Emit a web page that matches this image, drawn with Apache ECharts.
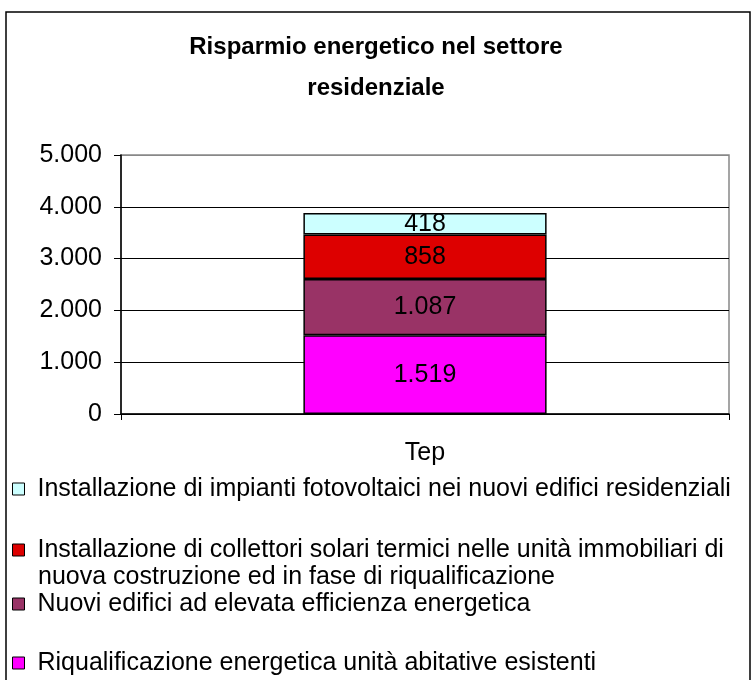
<!DOCTYPE html>
<html>
<head>
<meta charset="utf-8">
<script src="https://cdn.jsdelivr.net/npm/echarts@6/dist/echarts.min.js"></script>
<style>
  html, body { margin: 0; padding: 0; background: #fff; }
  #main { width: 752px; height: 680px; }
</style>
</head>
<body>
<div id="main"></div>
<script>
// data
var categories = ['Tep'];
var seriesNames = [
    'Riqualificazione energetica unità abitative esistenti',
    'Nuovi edifici ad elevata efficienza energetica',
    'Installazione di collettori solari termici nelle unità immobiliari di',
    'Installazione di impianti fotovoltaici nei nuovi edifici residenziali'
];
var riqualificazione = [1519];
var nuoviEdifici = [1087];
var collettori = [858];
var fotovoltaici = [418];
var seriesValues = [riqualificazione, nuoviEdifici, collettori, fotovoltaici];
var colors = ['#FF00FF', '#993366', '#DD0000', '#CCFFFF'];
var yTicks = [0, 1000, 2000, 3000, 4000, 5000];

var FONT = '"Liberation Sans", Arial, sans-serif';

function fmt(v) {
    // italian thousands separator
    return String(v).replace(/\B(?=(\d{3})+(?!\d))/g, '.');
}

var series = seriesNames.map(function (name, i) {
    return {
        name: name,
        type: 'bar',
        stack: 'tot',
        barCategoryGap: '60%',
        data: seriesValues[i],
        itemStyle: { color: colors[i], borderColor: '#000', borderWidth: 1.5 },
        label: {
            show: true,
            position: 'inside',
            color: '#000',
            fontFamily: FONT,
            fontSize: 25,
            formatter: function (p) { return fmt(p.value); }
        }
    };
});

// legend, one block per entry (top to bottom: reversed stack order)
var legendTops = [475, 536, 590, 649];
var legendOrder = [3, 2, 1, 0];
var legends = legendOrder.map(function (si, k) {
    return {
        data: [seriesNames[si]],
        left: 12,
        top: legendTops[k],
        padding: 0,
        itemWidth: 12,
        itemHeight: 12,
        icon: 'rect',
        selectedMode: false,
        itemStyle: { borderColor: '#000', borderWidth: 1 },
        textStyle: {
            fontFamily: FONT,
            fontSize: 25,
            color: '#000',
            lineHeight: 28,
            padding: [0, 0, 0, 8]
        }
    };
});

var myChart = echarts.init(document.getElementById('main'));
myChart.setOption({
    backgroundColor: '#fff',
    animation: false,
    title: {
        text: 'Risparmio energetico nel settore\nresidenziale',
        left: 'center',
        top: 27,
        padding: 0,
        textStyle: {
            fontFamily: FONT,
            fontSize: 24,
            fontWeight: 'bold',
            color: '#000',
            lineHeight: 41
        }
    },
    legend: legends,
    grid: {
        left: 121, right: 23, top: 155, bottom: 266,
        show: true, borderColor: '#888', borderWidth: 1.5
    },
    xAxis: {
        type: 'category',
        data: categories,
        axisLine: { lineStyle: { color: '#000', width: 1.5 } },
        axisTick: { show: true, length: 6, lineStyle: { color: '#000' } },
        axisLabel: { color: '#000', fontFamily: FONT, fontSize: 25, margin: 27 }
    },
    yAxis: {
        type: 'value',
        min: yTicks[0],
        max: yTicks[yTicks.length - 1],
        interval: 1000,
        axisLine: { show: true, lineStyle: { color: '#000', width: 1.5 } },
        axisTick: { show: true, length: 7, lineStyle: { color: '#000' } },
        axisLabel: {
            color: '#000', fontFamily: FONT, fontSize: 25, margin: 19,
            formatter: function (v) { return fmt(v); }
        },
        splitLine: { lineStyle: { color: ['#000', '#000', '#000', '#000', '#000', '#888'], width: 1 } }
    },
    graphic: [{
        type: 'rect',
        shape: { x: 6, y: 12, width: 744, height: 700 },
        style: { fill: 'none', stroke: '#000', lineWidth: 1.5 },
        silent: true
    }, {
        // second line of the red legend entry
        type: 'text',
        left: 38,
        top: 565,
        style: {
            text: 'nuova costruzione ed in fase di riqualificazione',
            fontFamily: FONT,
            fontSize: 25,
            fill: '#000'
        },
        silent: true
    }],
    series: series
});
</script>
</body>
</html>
